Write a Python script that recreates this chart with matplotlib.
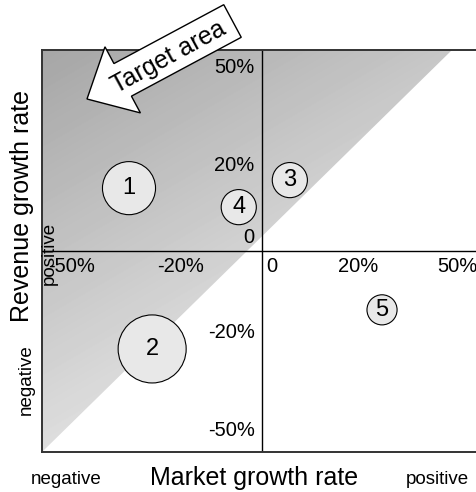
import numpy as np
import matplotlib
matplotlib.use("Agg")
import matplotlib.pyplot as plt
from matplotlib.patches import Polygon, FancyArrow

plt.rcParams['font.family'] = ['Liberation Sans', 'DejaVu Sans']

# bubbles: market growth (x), revenue growth (y), bubble size
labels = ["1", "2", "3", "4", "5"]
market_growth = [-33.2, -27.4, 7.1, -5.7, 30.2]
revenue_growth = [17.2, -26.8, 19.4, 12.0, -16.1]
bubble_size = [1460, 2400, 640, 640, 470]

# tick texts and where they sit
xtick_text = ["-50%", "-20%", "0", "20%", "50%"]
xtick_pos = [-47.5, -20.2, 2.6, 24.1, 49.2]
ytick_text = ["50%", "20%", "0", "-20%", "-50%"]
ytick_pos = [50.1, 23.3, 3.8, -22.2, -49.0]

L = 55
diag_top = 47.7  # x where the target-area edge meets the top

fig = plt.figure(figsize=(4.76, 4.92), dpi=100)
ax = fig.add_axes([42/476, 40/492, 439/476, 402/492])
ax.set_xlim(-L, L)
ax.set_ylim(-L, L)
ax.set_xticks([])
ax.set_yticks([])
for s in ax.spines.values():
    s.set_color("#333333")
    s.set_linewidth(1.4)

# gradient shaded target triangle: darker top-left, lighter toward bottom/right
nx, ny = 439, 402
px, py = np.meshgrid(np.arange(nx), np.arange(ny))
shade = 0.65 + 0.13 * (px / 410) + 0.22 * (py / 402)
img = ax.imshow(shade, cmap="gray", vmin=0, vmax=1, extent=(-L, L, -L, L),
                origin="upper", aspect="auto", zorder=0, interpolation="bilinear")
tri = Polygon([(-L, -L), (-L, L), (diag_top, L)], closed=True, transform=ax.transData,
              facecolor="none", edgecolor="none")
ax.add_patch(tri)
img.set_clip_path(tri)

# quadrant lines
ax.axhline(0, color="black", lw=1.0, zorder=1)
ax.axvline(0, color="black", lw=1.0, zorder=1)

# bubbles
ax.scatter(market_growth, revenue_growth, s=bubble_size, facecolor="#e8e8e8",
           edgecolor="black", linewidth=0.8, zorder=3)
for lab, x, y in zip(labels, market_growth, revenue_growth):
    ax.text(x, y, lab, ha="center", va="center", fontsize=17, zorder=4)

# tick texts
for t, x in zip(xtick_text, xtick_pos):
    ax.text(x, -L * 15 / 201, t, ha="center", va="center", fontsize=14.5, zorder=4)
for t, y in zip(ytick_text, ytick_pos):
    ax.annotate(t, (0, y), xytext=(-5, 0), textcoords="offset points",
                ha="right", va="center", fontsize=14.5, zorder=4)

# axis titles
fig.text(22/476, 1 - 206/492, "Revenue growth rate", rotation=90, ha="center",
         va="center", fontsize=18)
fig.text(254/476, 1 - 478/492, "Market growth rate", ha="center", va="center", fontsize=18)
fig.text(66/476, 1 - 479/492, "negative", ha="center", va="center", fontsize=13.5)
fig.text(437/476, 1 - 479/492, "positive", ha="center", va="center", fontsize=13.5)
fig.text(26/476, 1 - 380/492, "negative", rotation=90, ha="center", va="center", fontsize=13.5)
fig.text(49/476, 1 - 253/492, "positive", rotation=90, ha="center", va="center",
         fontsize=13.5, zorder=5)

# target area arrow (in inches from figure bottom-left)
tail = (2.325, (492 - 21) / 100)
tip = (0.87, (492 - 99) / 100)
arr = FancyArrow(tail[0], tail[1], tip[0] - tail[0], tip[1] - tail[1],
                 width=0.37, head_width=0.75, head_length=0.405,
                 length_includes_head=True, transform=fig.dpi_scale_trans,
                 facecolor="white", edgecolor="black", linewidth=1.0, zorder=6)
fig.patches.append(arr)
fig.text(1.69, (492 - 57) / 100, "Target area", rotation=28.6, rotation_mode="anchor",
         ha="center", va="center", fontsize=18, transform=fig.dpi_scale_trans, zorder=7)

fig.savefig("out.png", dpi=100)
